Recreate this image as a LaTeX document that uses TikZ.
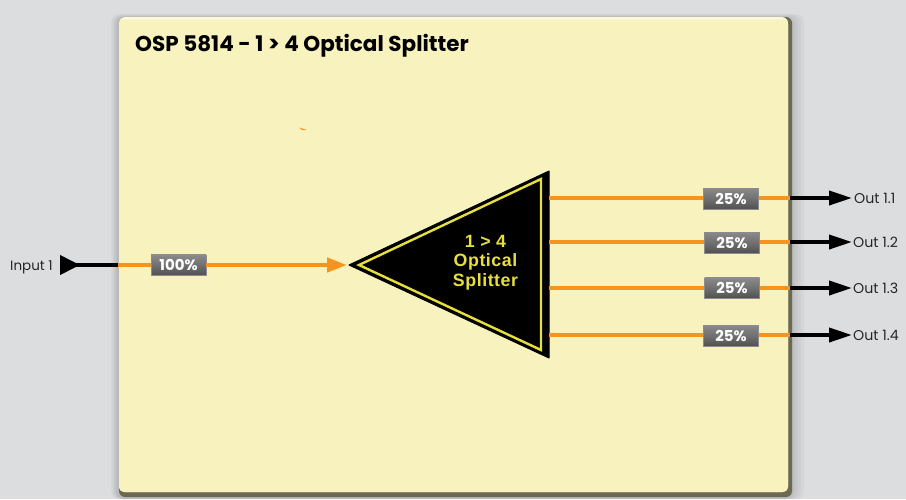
\documentclass[tikz,border=0pt]{standalone}
\usepackage{fontspec}
\setmainfont{Poppins}
\newfontfamily\splitfont[LetterSpace=3]{Liberation Sans}
\usetikzlibrary{arrows.meta,calc}
\definecolor{bgc}{HTML}{DCDDDF}
\definecolor{panelc}{HTML}{F8F3BE}
\definecolor{edgec}{HTML}{6B6A50}
\definecolor{orangec}{HTML}{F7941D}
\definecolor{yellowc}{HTML}{E6DF3C}
\tikzset{
  fibre/.style={draw=orangec,line width=4.4pt},
  cable/.style={draw=black,line width=3.8pt},
  outcable/.style={cable,-{Triangle[length=23pt,width=14pt]},shorten >=-1pt},
  incable/.style={cable,{Triangle[reversed,length=20pt,width=19pt]}-},
  badge/.style={top color=gray!92!white,bottom color=black!68!white,middle color=black!56!white,
    draw=black!45!white,line width=.4pt,minimum width=55pt,minimum height=20.5pt,inner sep=0pt,
    text=white,font=\fontsize{15}{15}\selectfont\bfseries},
  portlabel/.style={font=\fontsize{14.2}{15}\selectfont,text=black!85!white,inner sep=0pt},
}
\begin{document}
\begin{tikzpicture}[x=1pt,y=-1pt]
\fill[bgc] (0,0) rectangle (906,499);
\useasboundingbox (0,0) rectangle (906,499);
% soft shadow round the panel
\foreach \g in {14,11,8,5,3}{
  \fill[black,opacity=.03,rounded corners=8pt] (118-\g*.5,17-\g*.2) rectangle (790+\g,499);
}
\fill[edgec,rounded corners=6pt] (119,17) rectangle (792,497);
\fill[panelc!55!white,rounded corners=6pt] (119,17) rectangle (788,492);
\fill[panelc,rounded corners=5pt] (119,19.5) rectangle (788,492);
\node[anchor=base west,inner sep=0pt,font=\fontsize{21.5}{23}\selectfont\bfseries] (title) at (135,51.5) {OSP 5814 - 1 > 4 Optical Splitter};
\fill[orangec] (299,127.5) -- (307,130) -- (302,130) -- cycle;
% splitter
\coordinate (apex) at (349,265);
\coordinate (top) at (549,171);
\coordinate (bot) at (549,358);
\fill[black,draw=black,line width=1pt,line join=round] (apex) -- (top) -- (bot) -- cycle;
\draw[yellowc,line width=2.4pt,line join=miter] (359,265) -- (541,179) -- (541,350) -- cycle;
\node[align=center,text=yellowc,inner sep=0pt,font=\fontsize{17.8}{19.7}\splitfont\bfseries] (splitter) at (485.5,262.5) {1 > 4\\Optical\\Splitter};
% input
\node[portlabel,font=\fontsize{13.5}{15}\selectfont,anchor=base west] (inlabel) at (10,270) {Input 1};
\coordinate (instart) at (60,265);
\coordinate (inedge) at (118,265);
\draw[incable] (instart) -- (inedge);
\node[badge] (b0) at (178.5,265) {100\%};
\draw[fibre] (inedge) -- (inedge -| b0.west);
\draw[fibre,-{Triangle[length=20pt,width=14pt]}] (b0.east |- inedge) -- (347,265);
% outputs
\foreach \n/\y/\bx/\by/\tx in {1/198/731/198.5/854,2/242/732/242.5/853,3/288/732/288/853,4/335/731/335.5/853}{
  \coordinate (s\n) at (549,\y);
  \coordinate (e\n) at (790,\y);
  \coordinate (t\n) at (851,\y);
  \node[badge] (b\n) at (\bx,\by) {25\%};
  \draw[fibre] (s\n) -- (s\n -| b\n.west);
  \draw[fibre] (b\n.east |- s\n) -- (e\n);
  \draw[outcable] (e\n) -- (t\n);
  \node[portlabel,anchor=base west] (o\n) at (\tx,\y+5) {Out 1.\n};
}
\end{tikzpicture}
\end{document}
